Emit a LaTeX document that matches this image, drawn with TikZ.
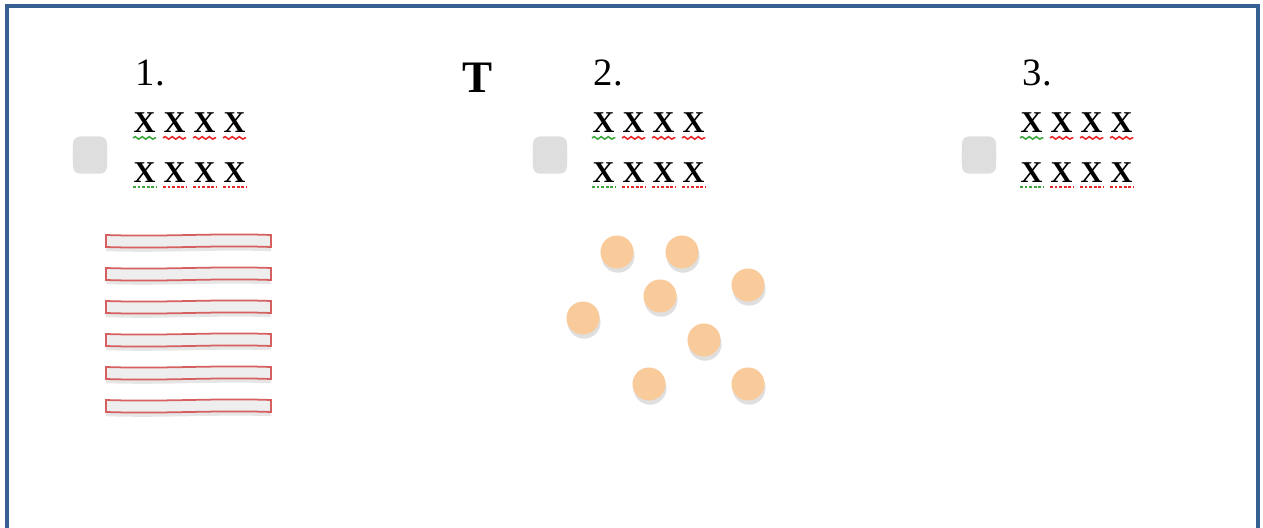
\documentclass[tikz,border=0pt]{standalone}
\usepackage{fontspec}
\setmainfont{Liberation Serif}
\usetikzlibrary{positioning,shadows,decorations.pathmorphing}
\definecolor{frameblue}{RGB}{54,96,146}
\definecolor{knobgray}{RGB}{222,222,222}
\definecolor{stripred}{RGB}{214,96,96}
\definecolor{stripfill}{RGB}{238,238,238}
\definecolor{dotorange}{RGB}{250,203,154}
\definecolor{spellgreen}{RGB}{60,165,60}
\definecolor{spellred}{RGB}{232,40,40}

\begin{document}
\begin{tikzpicture}[x=0.01cm, y=-0.01cm,
    frame/.style={draw=frameblue, line width=0.9pt},
    numlabel/.style={anchor=base west, inner sep=0pt, font=\fontsize{11}{13}\selectfont},
    xmark/.style={anchor=base west, inner sep=0pt, font=\fontsize{8.6}{10}\selectfont\bfseries},
    knob/.style={fill=knobgray, rounded corners=2pt, minimum width=0.34cm, minimum height=0.33cm, inner sep=0pt,
      drop shadow={shadow xshift=0pt, shadow yshift=-1.2pt, opacity=0.25}},
    strip/.style={draw=stripred, fill=stripfill, line width=0.5pt,
      drop shadow={shadow xshift=0pt, shadow yshift=-1.2pt, opacity=0.2}},
    dot/.style={circle, fill=dotorange, minimum size=0.33cm, inner sep=0pt,
      drop shadow={shadow xshift=0.3pt, shadow yshift=-1.2pt, opacity=0.25}},
    wavy/.style={line width=0.45pt, decorate, decoration={snake, segment length=2pt, amplitude=0.35pt}},
    dotty/.style={line width=0.5pt, dash pattern=on 0.8pt off 0.5pt}]
    \useasboundingbox (0,0) rectangle (1263,528);

    % Outer frame, open at the bottom
    \draw[frame] (7,540) -- (7,6) -- (1258,6) -- (1258,540);

    % Headings
    \node[numlabel] (n1) at (135,86) {1.};
    \node[numlabel] (n2) at (593,86) {2.};
    \node[numlabel] (n3) at (1022,86) {3.};
    \node[anchor=base west, inner sep=0pt, font=\fontsize{12.8}{15}\selectfont\bfseries] (tee) at (462,93) {T};

    % Grey knobs
    \node[knob] (k1) at (90,153) {};
    \node[knob] (k2) at (550,153) {};
    \node[knob] (k3) at (979,153) {};

    % Rows of X with spell-check underlines
    \foreach \c/\cx in {1/133, 2/592, 3/1020} {
      \foreach \k/\col in {0/spellgreen, 1/spellred, 2/spellred, 3/spellred} {
        \node[xmark] (x\c a\k) at ({\cx+30*\k},133) {X};
        \node[xmark] (x\c b\k) at ({\cx+30*\k},183) {X};
        \draw[wavy, \col] ([yshift=-1.2pt]x\c a\k.south west) -- ([yshift=-1.2pt]x\c a\k.south east);
        \draw[dotty, \col] ([yshift=-1pt]x\c b\k.south west) -- ([yshift=-1pt]x\c b\k.south east);
      }
    }

    % Stacked strips
    \foreach \sy in {241,274,307,340,373,406} {
      \draw[strip] (106,\sy-6) .. controls (165,\sy-4) and (215,\sy-8) .. (271,\sy-6)
        -- (271,\sy+6) .. controls (215,\sy+4) and (165,\sy+8) .. (106,\sy+6) -- cycle;
    }

    % Scattered dots
    \foreach \px/\py [count=\i] in {617/252, 682/252, 748/285, 660/296, 583/318, 704/340, 649/384, 748/384} {
      \node[dot] (d\i) at (\px,\py) {};
    }
\end{tikzpicture}
\end{document}
